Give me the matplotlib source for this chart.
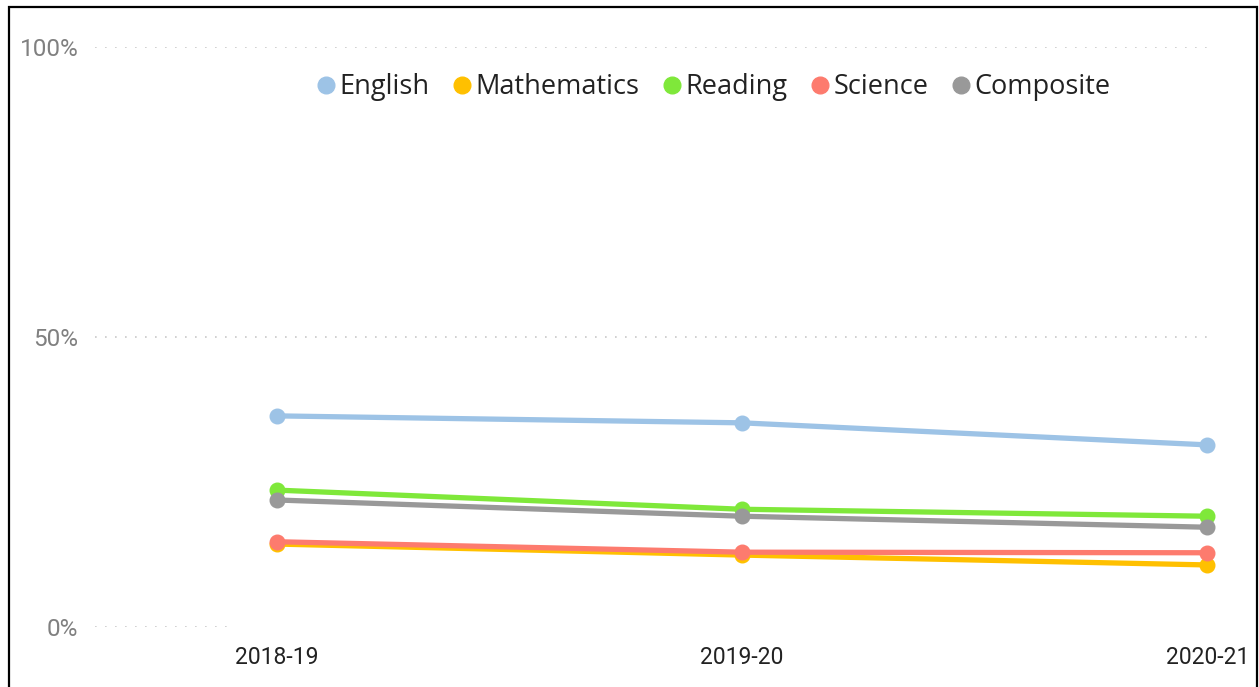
import matplotlib
matplotlib.use("Agg")
import matplotlib.pyplot as plt
from matplotlib.lines import Line2D
from matplotlib.patches import Rectangle

# data (percent)
years = ["2018-19", "2019-20", "2020-21"]
english = [36.4, 35.2, 31.4]
mathematics = [14.3, 12.4, 10.7]
reading = [23.6, 20.3, 19.1]
science = [14.7, 12.9, 12.8]
composite = [21.9, 19.1, 17.2]

subjects = ["English", "Mathematics", "Reading", "Science", "Composite"]
colours = ["#9dc3e6", "#ffc000", "#7fe83a", "#fd7b6e", "#999999"]
yticks = [0, 50, 100]
ylabels = ["0%", "50%", "100%"]

W, H = 1259, 687
fig = plt.figure(figsize=(W / 100, H / 100), dpi=100)
ax = fig.add_axes([95 / W, 1 - 627 / H, (1210 - 95) / W, (627 - 47) / H])

series = [english, mathematics, reading, science, composite]
x = list(range(len(years)))
for vals, c in zip(series, colours):
    ax.plot(x, vals, color=c, lw=3.8, marker="o", ms=10.5, solid_capstyle="round",
            clip_on=False)

ax.set_xlim(-0.391, 2.006)
ax.set_ylim(0, 100)
for s in ax.spines.values():
    s.set_visible(False)

# dotted gridlines
for yv in [50, 100]:
    ax.axhline(yv, color="#c8c8c8", lw=1.2, ls=(0, (1, 5)), zorder=0)
ax.axhline(0, xmin=0, xmax=(230 - 95) / (1210 - 95), color="#c8c8c8", lw=1.2,
           ls=(0, (1, 5)), zorder=0)

ax.set_xticks(x)
ax.set_xticklabels(years, family="Roboto", fontsize=16.5, color="#222222")
ax.set_yticks(yticks)
ax.set_yticklabels(ylabels, family="Roboto", fontsize=17.5, color="#808080")
ax.tick_params(axis="x", length=0, pad=14)
ax.tick_params(axis="y", length=0, pad=12)

handles = [Line2D([], [], ls="none", marker="o", ms=12, color=c) for c in colours]
fig.legend(handles, subjects, loc="center", bbox_to_anchor=(714 / W, 1 - 87 / H),
           ncol=5, frameon=False, handlelength=0.6, handletextpad=0.2,
           columnspacing=0.9, borderpad=0, labelcolor="#222222",
           prop={"family": ["Open Sans", "DejaVu Sans"], "size": 19.5})

# outer border (bottom edge is cut off in the original)
fig.patches.append(Rectangle((9 / W, -0.05), (1257 - 9) / W, 1.05 - 7 / H,
                             transform=fig.transFigure, fill=False,
                             ec="black", lw=1.6))

fig.savefig("out.png", dpi=100)
